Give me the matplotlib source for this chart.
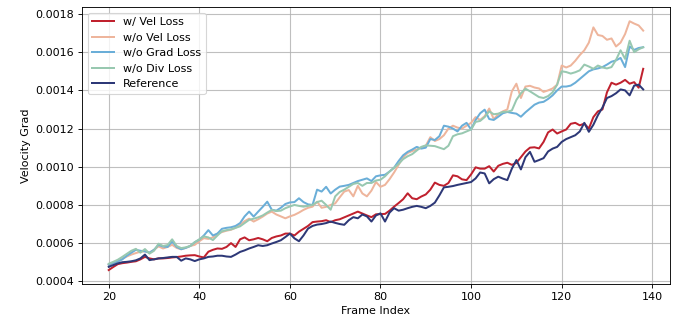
import numpy as np
import matplotlib
matplotlib.use("Agg")
import matplotlib.pyplot as plt

frames = list(range(20, 139))

w_vel = [0.000459, 0.000475, 0.000490, 0.000495, 0.000498, 0.000502, 0.000505, 0.000515, 0.000528, 0.000520,
         0.000515, 0.000520, 0.000520, 0.000522, 0.000525, 0.000527, 0.000530, 0.000534, 0.000536, 0.000537,
         0.000530, 0.000525, 0.000555, 0.000565, 0.000572, 0.000570, 0.000580, 0.000600, 0.000580, 0.000620,
         0.000630, 0.000615, 0.000620, 0.000627, 0.000620, 0.000610, 0.000627, 0.000635, 0.000640, 0.000650,
         0.000650, 0.000640, 0.000660, 0.000675, 0.000690, 0.000710, 0.000713, 0.000715, 0.000720, 0.000710,
         0.000720, 0.000725, 0.000735, 0.000745, 0.000755, 0.000765, 0.000755, 0.000745, 0.000736, 0.000751,
         0.000752, 0.000753, 0.000770, 0.000791, 0.000810, 0.000830, 0.000861, 0.000835, 0.000830, 0.000844,
         0.000855, 0.000880, 0.000917, 0.000905, 0.000900, 0.000915, 0.000955, 0.000950, 0.000934, 0.000930,
         0.000960, 0.000997, 0.000990, 0.000990, 0.001003, 0.000975, 0.001005, 0.001015, 0.001021, 0.001010,
         0.001020, 0.001050, 0.001080, 0.001100, 0.001102, 0.001096, 0.001130, 0.001180, 0.001195, 0.001174,
         0.001185, 0.001195, 0.001225, 0.001230, 0.001217, 0.001226, 0.001200, 0.001260, 0.001290, 0.001300,
         0.001390, 0.001440, 0.001430, 0.001440, 0.001455, 0.001435, 0.001443, 0.001414, 0.001513]

wo_vel = [0.000487, 0.000495, 0.000504, 0.000518, 0.000530, 0.000540, 0.000548, 0.000555, 0.000557, 0.000550,
          0.000565, 0.000583, 0.000572, 0.000580, 0.000591, 0.000575, 0.000568, 0.000575, 0.000585, 0.000591,
          0.000610, 0.000626, 0.000622, 0.000630, 0.000650, 0.000658, 0.000665, 0.000670, 0.000680, 0.000696,
          0.000715, 0.000728, 0.000713, 0.000725, 0.000739, 0.000755, 0.000765, 0.000750, 0.000740, 0.000730,
          0.000740, 0.000748, 0.000760, 0.000774, 0.000785, 0.000791, 0.000817, 0.000785, 0.000790, 0.000800,
          0.000808, 0.000840, 0.000870, 0.000878, 0.000845, 0.000900, 0.000860, 0.000845, 0.000875, 0.000920,
          0.000895, 0.000905, 0.000935, 0.000970, 0.001010, 0.001050, 0.001072, 0.001082, 0.001090, 0.001100,
          0.001110, 0.001155, 0.001135, 0.001145, 0.001165, 0.001200, 0.001215, 0.001205, 0.001200, 0.001215,
          0.001230, 0.001260, 0.001245, 0.001265, 0.001305, 0.001250, 0.001275, 0.001290, 0.001300, 0.001395,
          0.001435, 0.001360, 0.001420, 0.001424, 0.001415, 0.001410, 0.001392, 0.001400, 0.001410, 0.001430,
          0.001530, 0.001520, 0.001530, 0.001555, 0.001585, 0.001610, 0.001650, 0.001730, 0.001690, 0.001685,
          0.001665, 0.001672, 0.001630, 0.001650, 0.001695, 0.001762, 0.001750, 0.001740, 0.001713]

wo_grad = [0.000487, 0.000495, 0.000504, 0.000515, 0.000534, 0.000550, 0.000565, 0.000560, 0.000557, 0.000550,
           0.000565, 0.000591, 0.000582, 0.000580, 0.000609, 0.000580, 0.000568, 0.000575, 0.000585, 0.000605,
           0.000618, 0.000640, 0.000668, 0.000640, 0.000650, 0.000675, 0.000680, 0.000683, 0.000690, 0.000705,
           0.000740, 0.000765, 0.000739, 0.000765, 0.000790, 0.000817, 0.000775, 0.000770, 0.000785, 0.000805,
           0.000813, 0.000815, 0.000835, 0.000815, 0.000803, 0.000800, 0.000880, 0.000870, 0.000895, 0.000860,
           0.000880, 0.000896, 0.000900, 0.000905, 0.000915, 0.000925, 0.000932, 0.000939, 0.000925, 0.000950,
           0.000955, 0.000958, 0.000975, 0.000995, 0.001030, 0.001060, 0.001078, 0.001090, 0.001104, 0.001095,
           0.001100, 0.001145, 0.001140, 0.001160, 0.001215, 0.001210, 0.001200, 0.001185, 0.001215, 0.001230,
           0.001195, 0.001245, 0.001280, 0.001299, 0.001250, 0.001245, 0.001262, 0.001280, 0.001287, 0.001282,
           0.001278, 0.001262, 0.001285, 0.001305, 0.001325, 0.001336, 0.001340, 0.001355, 0.001374, 0.001400,
           0.001420, 0.001420, 0.001425, 0.001440, 0.001460, 0.001480, 0.001500, 0.001510, 0.001515, 0.001522,
           0.001535, 0.001550, 0.001557, 0.001570, 0.001522, 0.001630, 0.001612, 0.001622, 0.001626]

wo_div = [0.000492, 0.000502, 0.000513, 0.000528, 0.000544, 0.000560, 0.000570, 0.000550, 0.000569, 0.000545,
          0.000560, 0.000597, 0.000585, 0.000590, 0.000620, 0.000585, 0.000574, 0.000578, 0.000585, 0.000605,
          0.000620, 0.000635, 0.000630, 0.000616, 0.000640, 0.000662, 0.000668, 0.000672, 0.000680, 0.000688,
          0.000705, 0.000722, 0.000728, 0.000735, 0.000745, 0.000760, 0.000774, 0.000768, 0.000770, 0.000783,
          0.000792, 0.000800, 0.000795, 0.000791, 0.000795, 0.000800, 0.000815, 0.000822, 0.000800, 0.000775,
          0.000845, 0.000868, 0.000880, 0.000895, 0.000910, 0.000915, 0.000900, 0.000915, 0.000915, 0.000928,
          0.000932, 0.000950, 0.000975, 0.000995, 0.001015, 0.001040, 0.001055, 0.001066, 0.001085, 0.001104,
          0.001112, 0.001110, 0.001108, 0.001100, 0.001092, 0.001110, 0.001160, 0.001170, 0.001175, 0.001185,
          0.001195, 0.001235, 0.001240, 0.001260, 0.001290, 0.001275, 0.001278, 0.001287, 0.001288, 0.001295,
          0.001350, 0.001385, 0.001409, 0.001395, 0.001380, 0.001365, 0.001360, 0.001370, 0.001390, 0.001430,
          0.001500, 0.001496, 0.001488, 0.001495, 0.001505, 0.001535, 0.001525, 0.001513, 0.001530, 0.001520,
          0.001515, 0.001522, 0.001560, 0.001610, 0.001565, 0.001660, 0.001600, 0.001615, 0.001626]

reference = [0.000476, 0.000485, 0.000494, 0.000500, 0.000502, 0.000505, 0.000510, 0.000520, 0.000540, 0.000511,
             0.000515, 0.000520, 0.000522, 0.000525, 0.000528, 0.000528, 0.000508, 0.000520, 0.000515, 0.000506,
             0.000515, 0.000520, 0.000528, 0.000530, 0.000534, 0.000534, 0.000530, 0.000528, 0.000540, 0.000554,
             0.000562, 0.000572, 0.000580, 0.000589, 0.000585, 0.000589, 0.000598, 0.000606, 0.000615, 0.000632,
             0.000650, 0.000625, 0.000610, 0.000640, 0.000676, 0.000690, 0.000697, 0.000700, 0.000705, 0.000713,
             0.000706, 0.000700, 0.000696, 0.000720, 0.000736, 0.000730, 0.000750, 0.000740, 0.000713, 0.000745,
             0.000756, 0.000713, 0.000760, 0.000783, 0.000770, 0.000775, 0.000783, 0.000790, 0.000795, 0.000790,
             0.000783, 0.000795, 0.000812, 0.000850, 0.000892, 0.000895, 0.000899, 0.000905, 0.000910, 0.000915,
             0.000920, 0.000939, 0.000970, 0.000965, 0.000913, 0.000935, 0.000948, 0.000938, 0.000930, 0.000990,
             0.001035, 0.000986, 0.001050, 0.001078, 0.001026, 0.001035, 0.001045, 0.001080, 0.001095, 0.001104,
             0.001130, 0.001145, 0.001155, 0.001165, 0.001185, 0.001230, 0.001183, 0.001220, 0.001270, 0.001310,
             0.001360, 0.001370, 0.001385, 0.001405, 0.001400, 0.001374, 0.001425, 0.001430, 0.001405]

labels = ["w/ Vel Loss", "w/o Vel Loss", "w/o Grad Loss", "w/o Div Loss", "Reference"]
colors = ["#c0212e", "#eeb59c", "#6aaed8", "#98c8b0", "#2d3877"]
series = [w_vel, wo_vel, wo_grad, wo_div, reference]

fig = plt.figure(figsize=(685 / 80, 324 / 80), dpi=80)
ax = fig.add_axes([0.1197, 0.1235, 0.8583, 0.8545])
for vals, lab, col in zip(series, labels, colors):
    ax.plot(frames, vals, color=col, lw=1.8, label=lab)

ax.set_xlim(14.1, 143.9)
ax.set_ylim(0.000386, 0.001836)
ax.set_xticks([20, 40, 60, 80, 100, 120, 140])
ax.set_yticks([0.0004, 0.0006, 0.0008, 0.0010, 0.0012, 0.0014, 0.0016, 0.0018])
ax.yaxis.set_major_formatter(matplotlib.ticker.FormatStrFormatter("%.4f"))
ax.grid(True, color="#b0b0b0", lw=1.0, alpha=0.8)
ax.set_xlabel("Frame Index")
ax.set_ylabel("Velocity Grad")
ax.legend(loc="upper left")
fig.savefig("out.png", dpi=80)
